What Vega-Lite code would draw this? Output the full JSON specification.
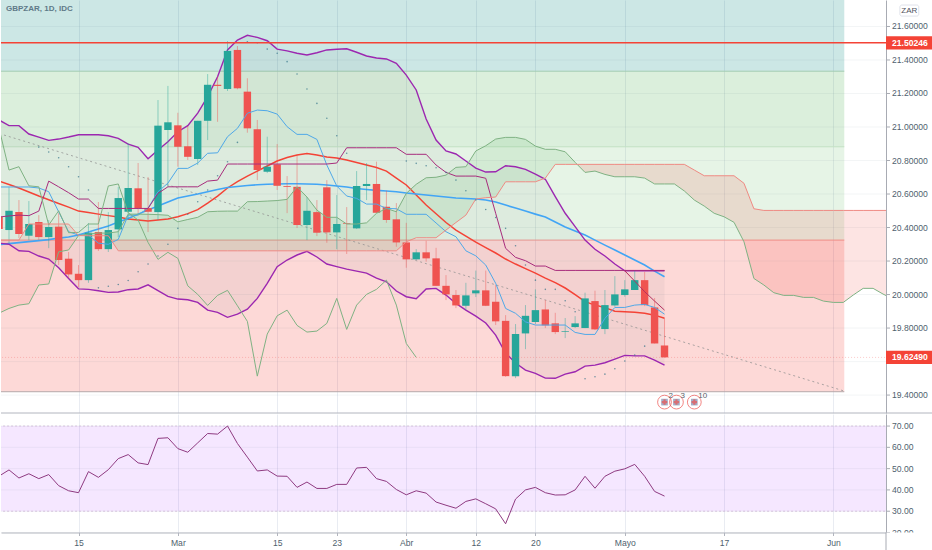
{"$schema":"https://vega.github.io/schema/vega-lite/v6.json","description":"GBPZAR diario con Ichimoku, Bollinger, medias, SAR y RSI","padding":0,"spacing":0,"background":"white","config":{"view":{"stroke":null},"font":"Liberation Sans"},
"datasets":{
"candles":[
{"i":-1,"o":20.463,"c":20.391,"h":20.534,"l":20.355,"d":"down"},
{"i":0,"o":20.385,"c":20.5,"h":20.642,"l":20.307,"d":"up"},
{"i":1,"o":20.492,"c":20.361,"h":20.564,"l":20.337,"d":"down"},
{"i":2,"o":20.351,"c":20.421,"h":20.558,"l":20.325,"d":"up"},
{"i":3,"o":20.433,"c":20.343,"h":20.474,"l":20.325,"d":"down"},
{"i":4,"o":20.343,"c":20.403,"h":20.445,"l":20.277,"d":"up"},
{"i":5,"o":20.405,"c":20.206,"h":20.486,"l":20.176,"d":"down"},
{"i":6,"o":20.214,"c":20.12,"h":20.254,"l":20.098,"d":"down"},
{"i":7,"o":20.124,"c":20.086,"h":20.176,"l":20.045,"d":"down"},
{"i":8,"o":20.086,"c":20.369,"h":20.427,"l":20.07,"d":"up"},
{"i":9,"o":20.373,"c":20.271,"h":20.552,"l":20.26,"d":"down"},
{"i":10,"o":20.271,"c":20.385,"h":20.492,"l":20.254,"d":"up"},
{"i":11,"o":20.389,"c":20.576,"h":20.642,"l":20.343,"d":"up"},
{"i":12,"o":20.494,"c":20.636,"h":20.904,"l":20.445,"d":"up"},
{"i":13,"o":20.634,"c":20.516,"h":20.785,"l":20.486,"d":"down"},
{"i":14,"o":20.516,"c":20.494,"h":20.701,"l":20.373,"d":"down"},
{"i":15,"o":20.492,"c":21.008,"h":21.161,"l":20.445,"d":"up"},
{"i":16,"o":20.982,"c":21.028,"h":21.245,"l":20.642,"d":"up"},
{"i":17,"o":21.01,"c":20.882,"h":21.085,"l":20.763,"d":"down"},
{"i":18,"o":20.885,"c":20.822,"h":21.006,"l":20.803,"d":"down"},
{"i":19,"o":20.809,"c":21.037,"h":21.037,"l":20.773,"d":"up"},
{"i":20,"o":21.037,"c":21.252,"h":21.316,"l":20.922,"d":"up"},
{"i":21,"o":21.252,"c":21.245,"h":21.3,"l":21.031,"d":"down"},
{"i":22,"o":21.227,"c":21.454,"h":21.513,"l":21.215,"d":"up"},
{"i":23,"o":21.46,"c":21.231,"h":21.483,"l":21.225,"d":"down"},
{"i":24,"o":21.211,"c":20.992,"h":21.291,"l":20.966,"d":"down"},
{"i":25,"o":20.986,"c":20.743,"h":21.042,"l":20.683,"d":"down"},
{"i":26,"o":20.733,"c":20.763,"h":20.942,"l":20.725,"d":"up"},
{"i":27,"o":20.777,"c":20.649,"h":20.898,"l":20.624,"d":"down"},
{"i":28,"o":20.648,"c":20.643,"h":20.707,"l":20.486,"d":"down"},
{"i":29,"o":20.643,"c":20.415,"h":20.833,"l":20.397,"d":"down"},
{"i":30,"o":20.415,"c":20.5,"h":20.582,"l":20.325,"d":"up"},
{"i":31,"o":20.492,"c":20.369,"h":20.564,"l":20.349,"d":"down"},
{"i":32,"o":20.64,"c":20.371,"h":20.683,"l":20.309,"d":"down"},
{"i":33,"o":20.371,"c":20.421,"h":20.594,"l":20.271,"d":"up"},
{"i":34,"o":20.425,"c":20.421,"h":20.522,"l":20.242,"d":"down"},
{"i":35,"o":20.395,"c":20.648,"h":20.737,"l":20.391,"d":"up"},
{"i":36,"o":20.648,"c":20.66,"h":20.785,"l":20.564,"d":"up"},
{"i":37,"o":20.66,"c":20.488,"h":20.793,"l":20.486,"d":"down"},
{"i":38,"o":20.524,"c":20.445,"h":20.62,"l":20.428,"d":"down"},
{"i":39,"o":20.449,"c":20.311,"h":20.546,"l":20.285,"d":"down"},
{"i":40,"o":20.311,"c":20.21,"h":20.428,"l":20.16,"d":"down"},
{"i":41,"o":20.21,"c":20.252,"h":20.271,"l":20.206,"d":"up"},
{"i":42,"o":20.252,"c":20.216,"h":20.321,"l":20.196,"d":"down"},
{"i":43,"o":20.216,"c":20.052,"h":20.279,"l":20.052,"d":"down"},
{"i":44,"o":20.052,"c":20.001,"h":20.116,"l":19.967,"d":"down"},
{"i":45,"o":19.997,"c":19.935,"h":20.027,"l":19.919,"d":"down"},
{"i":46,"o":19.933,"c":19.995,"h":20.07,"l":19.907,"d":"up"},
{"i":47,"o":20.007,"c":20.025,"h":20.143,"l":19.985,"d":"up"},
{"i":48,"o":20.025,"c":19.933,"h":20.143,"l":19.931,"d":"down"},
{"i":49,"o":19.957,"c":19.84,"h":20.057,"l":19.818,"d":"down"},
{"i":50,"o":19.843,"c":19.513,"h":19.877,"l":19.509,"d":"down"},
{"i":51,"o":19.513,"c":19.764,"h":19.824,"l":19.501,"d":"up"},
{"i":52,"o":19.768,"c":19.873,"h":19.937,"l":19.674,"d":"up"},
{"i":53,"o":19.836,"c":19.907,"h":20.031,"l":19.824,"d":"up"},
{"i":54,"o":19.911,"c":19.816,"h":19.967,"l":19.8,"d":"down"},
{"i":55,"o":19.828,"c":19.776,"h":19.891,"l":19.764,"d":"down"},
{"i":56,"o":19.778,"c":19.782,"h":19.86,"l":19.74,"d":"up"},
{"i":57,"o":19.806,"c":19.828,"h":19.871,"l":19.8,"d":"up"},
{"i":58,"o":19.8,"c":19.977,"h":20.011,"l":19.8,"d":"up"},
{"i":59,"o":19.961,"c":19.792,"h":20.023,"l":19.788,"d":"down"},
{"i":60,"o":19.794,"c":19.937,"h":20.027,"l":19.764,"d":"up"},
{"i":61,"o":19.935,"c":20.001,"h":20.11,"l":19.927,"d":"up"},
{"i":62,"o":19.997,"c":20.031,"h":20.086,"l":19.987,"d":"up"},
{"i":63,"o":20.027,"c":20.086,"h":20.142,"l":20.027,"d":"up"},
{"i":64,"o":20.086,"c":19.937,"h":20.136,"l":19.931,"d":"down"},
{"i":65,"o":19.923,"c":19.708,"h":19.979,"l":19.708,"d":"down"},
{"i":66,"o":19.696,"c":19.625,"h":19.858,"l":19.623,"d":"down"}
],
"lines":[
{"i":-1,"bu":21.042,"bl":20.307,"m20":20.677,"m50":20.298,"ten":20.642,"kij":20.463,"chi":20.992},
{"i":0,"bu":21.008,"bl":20.3,"m20":20.657,"m50":20.304,"ten":20.642,"kij":20.469,"chi":20.743},
{"i":1,"bu":21.008,"bl":20.261,"m20":20.636,"m50":20.31,"ten":20.642,"kij":20.474,"chi":20.763},
{"i":2,"bu":20.958,"bl":20.258,"m20":20.612,"m50":20.316,"ten":20.642,"kij":20.471,"chi":20.649},
{"i":3,"bu":20.94,"bl":20.23,"m20":20.588,"m50":20.322,"ten":20.636,"kij":20.498,"chi":20.643},
{"i":4,"bu":20.92,"bl":20.212,"m20":20.566,"m50":20.328,"ten":20.614,"kij":20.677,"chi":20.415},
{"i":5,"bu":20.928,"bl":20.16,"m20":20.543,"m50":20.337,"ten":20.494,"kij":20.643,"chi":20.5},
{"i":6,"bu":20.94,"bl":20.096,"m20":20.522,"m50":20.343,"ten":20.375,"kij":20.608,"chi":20.369},
{"i":7,"bu":20.954,"bl":20.034,"m20":20.498,"m50":20.355,"ten":20.355,"kij":20.57,"chi":20.371},
{"i":8,"bu":20.954,"bl":20.031,"m20":20.489,"m50":20.373,"ten":20.355,"kij":20.57,"chi":20.421},
{"i":9,"bu":20.954,"bl":20.023,"m20":20.48,"m50":20.391,"ten":20.307,"kij":20.514,"chi":20.421},
{"i":10,"bu":20.948,"bl":20.013,"m20":20.471,"m50":20.409,"ten":20.3,"kij":20.514,"chi":20.648},
{"i":11,"bu":20.932,"bl":20.015,"m20":20.463,"m50":20.433,"ten":20.329,"kij":20.514,"chi":20.66},
{"i":12,"bu":20.898,"bl":20.029,"m20":20.451,"m50":20.454,"ten":20.474,"kij":20.514,"chi":20.488},
{"i":13,"bu":20.879,"bl":20.033,"m20":20.445,"m50":20.48,"ten":20.474,"kij":20.514,"chi":20.445},
{"i":14,"bu":20.811,"bl":20.058,"m20":20.439,"m50":20.504,"ten":20.516,"kij":20.514,"chi":20.311},
{"i":15,"bu":20.863,"bl":20.023,"m20":20.445,"m50":20.528,"ten":20.614,"kij":20.604,"chi":20.21},
{"i":16,"bu":20.912,"bl":19.989,"m20":20.451,"m50":20.552,"ten":20.665,"kij":20.643,"chi":20.252},
{"i":17,"bu":20.972,"bl":19.973,"m20":20.464,"m50":20.576,"ten":20.753,"kij":20.643,"chi":20.216},
{"i":18,"bu":21.008,"bl":19.969,"m20":20.483,"m50":20.588,"ten":20.753,"kij":20.643,"chi":20.052},
{"i":19,"bu":21.083,"bl":19.953,"m20":20.507,"m50":20.6,"ten":20.785,"kij":20.643,"chi":20.001},
{"i":20,"bu":21.181,"bl":19.907,"m20":20.546,"m50":20.614,"ten":20.843,"kij":20.677,"chi":19.935},
{"i":21,"bu":21.3,"bl":19.894,"m20":20.588,"m50":20.627,"ten":20.846,"kij":20.683,"chi":19.995},
{"i":22,"bu":21.46,"bl":19.864,"m20":20.636,"m50":20.639,"ten":20.942,"kij":20.779,"chi":20.025},
{"i":23,"bu":21.519,"bl":19.883,"m20":20.674,"m50":20.645,"ten":20.992,"kij":20.779,"chi":19.933},
{"i":24,"bu":21.547,"bl":19.913,"m20":20.707,"m50":20.651,"ten":21.082,"kij":20.779,"chi":19.84},
{"i":25,"bu":21.535,"bl":19.977,"m20":20.737,"m50":20.655,"ten":21.101,"kij":20.779,"chi":19.513},
{"i":26,"bu":21.515,"bl":20.067,"m20":20.767,"m50":20.658,"ten":21.097,"kij":20.779,"chi":19.764},
{"i":27,"bu":21.465,"bl":20.166,"m20":20.797,"m50":20.66,"ten":21.077,"kij":20.779,"chi":19.873},
{"i":28,"bu":21.454,"bl":20.206,"m20":20.818,"m50":20.661,"ten":21.002,"kij":20.779,"chi":19.907},
{"i":29,"bu":21.44,"bl":20.236,"m20":20.833,"m50":20.661,"ten":20.956,"kij":20.779,"chi":19.816},
{"i":30,"bu":21.43,"bl":20.258,"m20":20.842,"m50":20.66,"ten":20.956,"kij":20.779,"chi":19.776},
{"i":31,"bu":21.443,"bl":20.224,"m20":20.833,"m50":20.658,"ten":20.926,"kij":20.779,"chi":19.782},
{"i":32,"bu":21.46,"bl":20.182,"m20":20.821,"m50":20.654,"ten":20.773,"kij":20.779,"chi":19.828},
{"i":33,"bu":21.464,"bl":20.167,"m20":20.815,"m50":20.648,"ten":20.648,"kij":20.785,"chi":19.977},
{"i":34,"bu":21.467,"bl":20.152,"m20":20.803,"m50":20.642,"ten":20.588,"kij":20.876,"chi":19.792},
{"i":35,"bu":21.446,"bl":20.14,"m20":20.788,"m50":20.633,"ten":20.574,"kij":20.876,"chi":19.937},
{"i":36,"bu":21.424,"bl":20.128,"m20":20.773,"m50":20.627,"ten":20.54,"kij":20.876,"chi":20.001},
{"i":37,"bu":21.412,"bl":20.098,"m20":20.758,"m50":20.622,"ten":20.54,"kij":20.876,"chi":20.031},
{"i":38,"bu":21.406,"bl":20.076,"m20":20.737,"m50":20.618,"ten":20.514,"kij":20.876,"chi":20.086},
{"i":39,"bu":21.38,"bl":20.021,"m20":20.695,"m50":20.614,"ten":20.512,"kij":20.876,"chi":19.937},
{"i":40,"bu":21.31,"bl":19.987,"m20":20.654,"m50":20.606,"ten":20.479,"kij":20.837,"chi":19.708},
{"i":41,"bu":21.221,"bl":19.975,"m20":20.594,"m50":20.6,"ten":20.479,"kij":20.837,"chi":19.625},
{"i":42,"bu":21.048,"bl":20.033,"m20":20.534,"m50":20.594,"ten":20.479,"kij":20.837},
{"i":43,"bu":20.922,"bl":20.037,"m20":20.482,"m50":20.588,"ten":20.427,"kij":20.773},
{"i":44,"bu":20.857,"bl":19.997,"m20":20.43,"m50":20.582,"ten":20.375,"kij":20.729},
{"i":45,"bu":20.839,"bl":19.947,"m20":20.385,"m50":20.576,"ten":20.345,"kij":20.707},
{"i":46,"bu":20.797,"bl":19.907,"m20":20.349,"m50":20.573,"ten":20.261,"kij":20.707},
{"i":47,"bu":20.755,"bl":19.871,"m20":20.313,"m50":20.57,"ten":20.231,"kij":20.707},
{"i":48,"bu":20.731,"bl":19.83,"m20":20.28,"m50":20.564,"ten":20.176,"kij":20.694},
{"i":49,"bu":20.733,"bl":19.758,"m20":20.248,"m50":20.552,"ten":20.067,"kij":20.485},
{"i":50,"bu":20.769,"bl":19.651,"m20":20.212,"m50":20.534,"ten":19.917,"kij":20.276},
{"i":51,"bu":20.763,"bl":19.591,"m20":20.182,"m50":20.516,"ten":19.888,"kij":20.222},
{"i":52,"bu":20.747,"bl":19.549,"m20":20.155,"m50":20.498,"ten":19.837,"kij":20.202},
{"i":53,"bu":20.719,"bl":19.529,"m20":20.128,"m50":20.48,"ten":19.818,"kij":20.17},
{"i":54,"bu":20.688,"bl":19.501,"m20":20.098,"m50":20.463,"ten":19.818,"kij":20.17},
{"i":55,"bu":20.584,"bl":19.5,"m20":20.071,"m50":20.433,"ten":19.818,"kij":20.144},
{"i":56,"bu":20.485,"bl":19.525,"m20":20.039,"m50":20.403,"ten":19.818,"kij":20.144},
{"i":57,"bu":20.405,"bl":19.539,"m20":20.0,"m50":20.379,"ten":19.774,"kij":20.144},
{"i":58,"bu":20.325,"bl":19.573,"m20":19.958,"m50":20.355,"ten":19.762,"kij":20.144},
{"i":59,"bu":20.27,"bl":19.579,"m20":19.937,"m50":20.325,"ten":19.762,"kij":20.144},
{"i":60,"bu":20.23,"bl":19.593,"m20":19.922,"m50":20.295,"ten":19.858,"kij":20.144},
{"i":61,"bu":20.182,"bl":19.615,"m20":19.901,"m50":20.266,"ten":19.923,"kij":20.144},
{"i":62,"bu":20.142,"bl":19.637,"m20":19.898,"m50":20.236,"ten":19.923,"kij":20.144,"dg":20.142},
{"i":63,"bu":20.142,"bl":19.634,"m20":19.895,"m50":20.206,"ten":19.937,"kij":20.144,"dg":20.08},
{"i":64,"bu":20.142,"bl":19.634,"m20":19.889,"m50":20.176,"ten":19.941,"kij":20.144,"dg":20.017},
{"i":65,"bu":20.142,"bl":19.609,"m20":19.877,"m50":20.14,"ten":19.923,"kij":20.144,"dg":19.961},
{"i":66,"bu":20.142,"bl":19.579,"m20":19.858,"m50":20.106,"ten":19.883,"kij":20.144,"dg":19.907}
],
"cloud":[
{"s":"r1","i":-1,"a":19.889,"b":20.325},{"s":"r1","i":0,"a":19.917,"b":20.325},{"s":"r1","i":1,"a":19.937,"b":20.325},{"s":"r1","i":2,"a":19.945,"b":20.421},{"s":"r1","i":3,"a":20.057,"b":20.421},{"s":"r1","i":4,"a":20.063,"b":20.421},{"s":"r1","i":5,"a":20.255,"b":20.421},{"s":"r1","i":6,"a":20.266,"b":20.421},{"s":"r1","i":7,"a":20.352,"b":20.352},
{"s":"g","i":7,"a":20.352,"b":20.352},{"s":"g","i":8,"a":20.361,"b":20.351},{"s":"g","i":9,"a":20.367,"b":20.351},{"s":"g","i":10,"a":20.367,"b":20.351},{"s":"g","i":11,"a":20.375,"b":20.261},{"s":"g","i":12,"a":20.48,"b":20.261},{"s":"g","i":13,"a":20.48,"b":20.261},{"s":"g","i":14,"a":20.479,"b":20.261},{"s":"g","i":15,"a":20.477,"b":20.261},{"s":"g","i":16,"a":20.473,"b":20.261},{"s":"g","i":17,"a":20.434,"b":20.261},{"s":"g","i":18,"a":20.448,"b":20.261},{"s":"g","i":19,"a":20.461,"b":20.261},{"s":"g","i":20,"a":20.494,"b":20.261},{"s":"g","i":21,"a":20.497,"b":20.261},{"s":"g","i":22,"a":20.498,"b":20.261},{"s":"g","i":23,"a":20.498,"b":20.261},{"s":"g","i":24,"a":20.554,"b":20.261},{"s":"g","i":25,"a":20.555,"b":20.261},{"s":"g","i":26,"a":20.558,"b":20.261},{"s":"g","i":27,"a":20.561,"b":20.261},{"s":"g","i":28,"a":20.568,"b":20.261},{"s":"g","i":29,"a":20.643,"b":20.261},{"s":"g","i":30,"a":20.582,"b":20.261},{"s":"g","i":31,"a":20.504,"b":20.261},{"s":"g","i":32,"a":20.461,"b":20.261},{"s":"g","i":33,"a":20.461,"b":20.261},{"s":"g","i":34,"a":20.421,"b":20.261},{"s":"g","i":35,"a":20.421,"b":20.261},{"s":"g","i":36,"a":20.428,"b":20.261},{"s":"g","i":37,"a":20.485,"b":20.261},{"s":"g","i":38,"a":20.514,"b":20.261},{"s":"g","i":39,"a":20.494,"b":20.261},{"s":"g","i":40,"a":20.604,"b":20.315},{"s":"g","i":41,"a":20.658,"b":20.339},{"s":"g","i":42,"a":20.697,"b":20.339},{"s":"g","i":43,"a":20.7,"b":20.339},{"s":"g","i":44,"a":20.713,"b":20.385},{"s":"g","i":45,"a":20.759,"b":20.43},{"s":"g","i":46,"a":20.763,"b":20.474},{"s":"g","i":47,"a":20.857,"b":20.57},{"s":"g","i":48,"a":20.888,"b":20.578},{"s":"g","i":49,"a":20.928,"b":20.582},{"s":"g","i":50,"a":20.938,"b":20.673},{"s":"g","i":51,"a":20.938,"b":20.673},{"s":"g","i":52,"a":20.926,"b":20.673},{"s":"g","i":53,"a":20.886,"b":20.673},{"s":"g","i":54,"a":20.867,"b":20.695},{"s":"g","i":55,"a":20.867,"b":20.777},{"s":"g","i":56,"a":20.852,"b":20.777},{"s":"g","i":57,"a":20.789,"b":20.777},{"s":"g","i":57.2,"a":20.777,"b":20.777},
{"s":"r2","i":57.2,"a":20.777,"b":20.777},{"s":"r2","i":58,"a":20.729,"b":20.777},{"s":"r2","i":59,"a":20.737,"b":20.777},{"s":"r2","i":60,"a":20.717,"b":20.777},{"s":"r2","i":61,"a":20.703,"b":20.777},{"s":"r2","i":62,"a":20.703,"b":20.777},{"s":"r2","i":63,"a":20.703,"b":20.777},{"s":"r2","i":64,"a":20.695,"b":20.777},{"s":"r2","i":65,"a":20.66,"b":20.777},{"s":"r2","i":66,"a":20.66,"b":20.777},{"s":"r2","i":67,"a":20.66,"b":20.777},{"s":"r2","i":68,"a":20.618,"b":20.777},{"s":"r2","i":69,"a":20.564,"b":20.743},{"s":"r2","i":70,"a":20.528,"b":20.709},{"s":"r2","i":71,"a":20.485,"b":20.709},{"s":"r2","i":72,"a":20.464,"b":20.709},{"s":"r2","i":73,"a":20.431,"b":20.709},{"s":"r2","i":74,"a":20.315,"b":20.664},{"s":"r2","i":75,"a":20.096,"b":20.512},{"s":"r2","i":76,"a":20.057,"b":20.502},{"s":"r2","i":77,"a":20.011,"b":20.502},{"s":"r2","i":78,"a":19.995,"b":20.502},{"s":"r2","i":79,"a":19.995,"b":20.502},{"s":"r2","i":80,"a":19.983,"b":20.502},{"s":"r2","i":81,"a":19.983,"b":20.502},{"s":"r2","i":82,"a":19.961,"b":20.502},{"s":"r2","i":83,"a":19.953,"b":20.502},{"s":"r2","i":84,"a":19.953,"b":20.502},{"s":"r2","i":85,"a":19.997,"b":20.502},{"s":"r2","i":86,"a":20.037,"b":20.502},{"s":"r2","i":87,"a":20.037,"b":20.502},{"s":"r2","i":88,"a":20.003,"b":20.502},{"s":"r2","i":89,"a":19.973,"b":20.502}
],
"sar":[
{"i":3,"p":20.88},{"i":4,"p":20.851},{"i":5,"p":20.816},{"i":6,"p":20.763},{"i":7,"p":20.703},{"i":8,"p":20.624},{"i":9,"p":20.04},{"i":10,"p":20.05},{"i":11,"p":20.06},{"i":12,"p":20.084},{"i":13,"p":20.136},{"i":14,"p":20.182},{"i":15,"p":20.23},{"i":16,"p":20.3},{"i":17,"p":20.395},{"i":18,"p":20.48},{"i":19,"p":20.554},{"i":20,"p":20.624},{"i":21,"p":20.709},{"i":22,"p":20.793},{"i":23,"p":20.908},{"i":24,"p":21.509},{"i":25,"p":21.503},{"i":26,"p":21.465},{"i":27,"p":21.44},{"i":28,"p":21.39},{"i":29,"p":21.316},{"i":30,"p":21.227},{"i":31,"p":21.141},{"i":32,"p":21.052},{"i":33,"p":20.948},{"i":34,"p":20.843},{"i":40,"p":20.797},{"i":41,"p":20.783},{"i":42,"p":20.769},{"i":43,"p":20.757},{"i":44,"p":20.729},{"i":45,"p":20.683},{"i":46,"p":20.62},{"i":47,"p":20.564},{"i":48,"p":20.508},{"i":49,"p":20.46},{"i":50,"p":20.395},{"i":51,"p":20.291},{"i":52,"p":20.176},{"i":53,"p":20.086},{"i":54,"p":20.031},{"i":55,"p":20.031},{"i":56,"p":19.963},{"i":57,"p":19.897},{"i":58,"p":19.497},{"i":59,"p":19.509},{"i":60,"p":19.525},{"i":61,"p":19.557},{"i":62,"p":19.603},{"i":63,"p":19.639},{"i":64,"p":19.692}
],
"zones":[
{"z":"a","x1":-1,"x2":84.1,"p1":21.333,"p2":21.8},
{"z":"b","x1":-1,"x2":84.1,"p1":20.882,"p2":21.333},
{"z":"c","x1":-1,"x2":84.1,"p1":20.325,"p2":20.882},
{"z":"d","x1":-1,"x2":84.1,"p1":19.42,"p2":20.325}
],
"priceTicks":[{"p":21.6},{"p":21.4},{"p":21.2},{"p":21},{"p":20.8},{"p":20.6},{"p":20.4},{"p":20.2},{"p":20},{"p":19.8},{"p":19.6},{"p":19.4}],
"rsiTicks":[{"v":70},{"v":60},{"v":50},{"v":40},{"v":30},{"v":20}],
"labels":[
{"t":"21.50246","p":21.50246,"lo":21.463,"hi":21.542},
{"t":"19.62490","p":19.6249,"lo":19.586,"hi":19.664}
],
"events":[{"i":66,"p":19.358,"n":"2"},{"i":67.2,"p":19.358,"n":"3"},{"i":69,"p":19.358,"n":"10"}],
"rsi":[
{"i":-1,"v":46.5},{"i":0,"v":49.4},{"i":1,"v":45.6},{"i":2,"v":47.6},{"i":3,"v":45.3},{"i":4,"v":47.2},{"i":5,"v":42},{"i":6,"v":39.6},{"i":7,"v":38.7},{"i":8,"v":48.6},{"i":9,"v":45.9},{"i":10,"v":49.5},{"i":11,"v":54.7},{"i":12,"v":56.6},{"i":13,"v":52.7},{"i":14,"v":51.9},{"i":15,"v":64.2},{"i":16,"v":64.5},{"i":17,"v":59.4},{"i":18,"v":57.7},{"i":19,"v":62.1},{"i":20,"v":66.5},{"i":21,"v":66.2},{"i":22,"v":70},{"i":23,"v":61.8},{"i":24,"v":55.4},{"i":25,"v":48.9},{"i":26,"v":49.4},{"i":27,"v":46.5},{"i":28,"v":46.4},{"i":29,"v":41.2},{"i":30,"v":43.7},{"i":31,"v":40.7},{"i":32,"v":40.7},{"i":33,"v":42.6},{"i":34,"v":42.6},{"i":35,"v":50.3},{"i":36,"v":50.6},{"i":37,"v":45.3},{"i":38,"v":44},{"i":39,"v":40.2},{"i":40,"v":37.7},{"i":41,"v":39.6},{"i":42,"v":38.5},{"i":43,"v":34.3},{"i":44,"v":32.8},{"i":45,"v":31.4},{"i":46,"v":34.6},{"i":47,"v":35.8},{"i":48,"v":33.5},{"i":49,"v":31.1},{"i":50,"v":24.1},{"i":51,"v":35.7},{"i":52,"v":40},{"i":53,"v":41.2},{"i":54,"v":38.7},{"i":55,"v":37.6},{"i":56,"v":37.7},{"i":57,"v":40},{"i":58,"v":46.4},{"i":59,"v":40.8},{"i":60,"v":46.4},{"i":61,"v":48.8},{"i":62,"v":49.9},{"i":63,"v":52},{"i":64,"v":46.4},{"i":65,"v":39.3},{"i":66,"v":37.1}
]
},
"vconcat":[
{"width":885,"height":413,
"resolve":{"scale":{"color":"independent"}},
"layer":[
{"data":{"name":"zones"},"mark":{"type":"rect","clip":true,"opacity":0.2},"encoding":{"x":{"field":"x1","type":"quantitative","title":null,"scale":{"domain":[-0.806,88.3],"nice":false,"zero":false,"padding":0},"axis":{"values":[7,17,27,33,40,47,53,62,72,83],"labels":false,"ticks":false,"domain":false,"grid":true,"gridColor":"#e9ecf2","title":null}},"x2":{"field":"x2"},"y":{"field":"p1","type":"quantitative","scale":{"domain":[19.293,21.758],"nice":false,"zero":false},"title":null,"axis":{"orient":"right","labels":false,"ticks":false,"grid":false,"domainColor":"#a8abb3","title":null}},"y2":{"field":"p2"},"color":{"field":"z","type":"nominal","legend":null,"scale":{"domain":["a","b","c","d"],"range":["#00897b","#4caf50","#81c784","#f44336"]}}}},
{"data":{"name":"priceTicks"},"mark":{"type":"rule","clip":true,"color":"#607d8b","opacity":0.08,"strokeWidth":1},"encoding":{"x":{"datum":-1,"type":"quantitative"},"x2":{"datum":88.3},"y":{"field":"p","type":"quantitative"}}},
{"data":{"name":"priceTicks"},"mark":{"type":"rule","color":"#a8abb3","strokeWidth":1},"encoding":{"x":{"datum":88.3,"type":"quantitative"},"x2":{"datum":88.7},"y":{"field":"p","type":"quantitative"}}},
{"data":{"name":"priceTicks"},"transform":[{"filter":"datum.p != 19.6"}],"mark":{"type":"text","align":"left","dx":6,"fontSize":8.6,"color":"#4f5f6e"},"encoding":{"x":{"datum":88.3,"type":"quantitative"},"y":{"field":"p","type":"quantitative"},"text":{"field":"p","type":"quantitative","format":".5f"}}},
{"data":{"values":[{"p":21.333,"k":"a"},{"p":20.882,"k":"b"},{"p":20.325,"k":"c"},{"p":19.42,"k":"d"}]},"mark":{"type":"rule","clip":true,"strokeWidth":1},"encoding":{"x":{"datum":-1,"type":"quantitative"},"x2":{"datum":84.1},"y":{"field":"p","type":"quantitative"},"color":{"field":"k","type":"nominal","legend":null,"scale":{"domain":["a","b","c","d"],"range":["#a3cdb2","#c2e2c4","#ef9a93","#b5a8aa"]}}}},
{"data":{"name":"lines"},"mark":{"type":"area","clip":true,"color":"#37474f","opacity":0.05},"encoding":{"x":{"field":"i","type":"quantitative"},"y":{"field":"bu","type":"quantitative"},"y2":{"field":"bl"}}},
{"data":{"name":"cloud"},"mark":{"type":"area","clip":true},"encoding":{"x":{"field":"i","type":"quantitative"},"y":{"field":"a","type":"quantitative"},"y2":{"field":"b"},"color":{"field":"s","type":"nominal","legend":null,"scale":{"domain":["r1","g","r2"],"range":["#f44336","#4caf50","#f44336"]}},"opacity":{"field":"s","type":"nominal","legend":null,"scale":{"domain":["r1","g","r2"],"range":[0.1,0.14,0.1]}}}},
{"data":{"values":[{"a":-0.5,"b":84.1,"p1":20.952,"p2":19.424}]},"mark":{"type":"rule","clip":true,"color":"#8f8f8f","strokeDash":[2,3],"strokeWidth":1,"opacity":0.75},"encoding":{"x":{"field":"a","type":"quantitative"},"x2":{"field":"b"},"y":{"field":"p1","type":"quantitative"},"y2":{"field":"p2"}}},
{"data":{"name":"lines"},"mark":{"type":"line","clip":true,"color":"#f44336","strokeWidth":1.5},"encoding":{"x":{"field":"i","type":"quantitative"},"y":{"field":"m20","type":"quantitative"}}},
{"data":{"name":"lines"},"mark":{"type":"line","clip":true,"color":"#42a5f5","strokeWidth":1.6},"encoding":{"x":{"field":"i","type":"quantitative"},"y":{"field":"m50","type":"quantitative"}}},
{"data":{"name":"lines"},"mark":{"type":"line","clip":true,"color":"#9c27b0","strokeWidth":1.4},"encoding":{"x":{"field":"i","type":"quantitative"},"y":{"field":"bu","type":"quantitative"}}},
{"data":{"name":"lines"},"mark":{"type":"line","clip":true,"color":"#9c27b0","strokeWidth":1.4},"encoding":{"x":{"field":"i","type":"quantitative"},"y":{"field":"bl","type":"quantitative"}}},
{"data":{"name":"candles"},"mark":{"type":"rule","clip":true,"strokeWidth":1,"opacity":0.45},"encoding":{"x":{"field":"i","type":"quantitative"},"y":{"field":"l","type":"quantitative"},"y2":{"field":"h"},"color":{"field":"d","type":"nominal","legend":null,"scale":{"domain":["up","down"],"range":["#26a69a","#ef5350"]}}}},
{"data":{"name":"candles"},"mark":{"type":"bar","clip":true,"size":7.4},"encoding":{"x":{"field":"i","type":"quantitative"},"y":{"field":"o","type":"quantitative"},"y2":{"field":"c"},"color":{"field":"d","type":"nominal","legend":null,"scale":{"domain":["up","down"],"range":["#26a69a","#ef5350"]}}}},
{"data":{"name":"lines"},"mark":{"type":"line","clip":true,"color":"#4fa8e8","strokeWidth":1},"encoding":{"x":{"field":"i","type":"quantitative"},"y":{"field":"ten","type":"quantitative"}}},
{"data":{"name":"lines"},"mark":{"type":"line","clip":true,"color":"#a82c7c","strokeWidth":1},"encoding":{"x":{"field":"i","type":"quantitative"},"y":{"field":"kij","type":"quantitative"}}},
{"data":{"name":"lines"},"mark":{"type":"line","clip":true,"color":"#b5305f","strokeWidth":1},"encoding":{"x":{"field":"i","type":"quantitative"},"y":{"field":"dg","type":"quantitative"}}},
{"data":{"name":"lines"},"mark":{"type":"line","clip":true,"color":"#7fb283","strokeWidth":1},"encoding":{"x":{"field":"i","type":"quantitative"},"y":{"field":"chi","type":"quantitative"}}},
{"data":{"name":"cloud"},"mark":{"type":"line","clip":true,"color":"#7fb283","strokeWidth":1},"encoding":{"x":{"field":"i","type":"quantitative"},"y":{"field":"a","type":"quantitative"}}},
{"data":{"name":"cloud"},"mark":{"type":"line","clip":true,"color":"#ef8a83","strokeWidth":1},"encoding":{"x":{"field":"i","type":"quantitative"},"y":{"field":"b","type":"quantitative"}}},
{"data":{"name":"sar"},"mark":{"type":"circle","clip":true,"size":2.5,"color":"#2f7088","opacity":0.7},"encoding":{"x":{"field":"i","type":"quantitative"},"y":{"field":"p","type":"quantitative"}}},
{"data":{"values":[{"p":19.6249}]},"mark":{"type":"rule","clip":true,"color":"#ef5350","strokeDash":[1,2],"opacity":0.3},"encoding":{"x":{"datum":-1,"type":"quantitative"},"x2":{"datum":88.3},"y":{"field":"p","type":"quantitative"}}},
{"data":{"values":[{"p":21.50246}]},"mark":{"type":"rule","clip":true,"color":"#f44336","strokeWidth":1.5},"encoding":{"x":{"datum":-1,"type":"quantitative"},"x2":{"datum":88.3},"y":{"field":"p","type":"quantitative"}}},
{"data":{"name":"labels"},"mark":{"type":"rect","color":"#f44336"},"encoding":{"x":{"datum":88.3,"type":"quantitative"},"x2":{"datum":93.05},"y":{"field":"lo","type":"quantitative"},"y2":{"field":"hi"}}},
{"data":{"name":"labels"},"mark":{"type":"text","align":"left","color":"white","fontSize":8.6,"fontWeight":"bold"},"encoding":{"x":{"datum":88.9,"type":"quantitative"},"y":{"field":"p","type":"quantitative"},"text":{"field":"t"}}},
{"data":{"values":[{"a":89.7,"b":91.6,"lo":21.662,"hi":21.728}]},"mark":{"type":"rect","fill":"white","stroke":"#e0e3eb","cornerRadius":2},"encoding":{"x":{"field":"a","type":"quantitative"},"x2":{"field":"b"},"y":{"field":"lo","type":"quantitative"},"y2":{"field":"hi"}}},
{"data":{"values":[{"a":90.65,"p":21.695,"t":"ZAR"}]},"mark":{"type":"text","fontSize":8,"color":"#50535e"},"encoding":{"x":{"field":"a","type":"quantitative"},"y":{"field":"p","type":"quantitative"},"text":{"field":"t"}}},
{"data":{"values":[{"a":-0.3,"p":21.702,"t":"GBPZAR, 1D, IDC"}]},"mark":{"type":"text","align":"left","fontSize":8,"fontWeight":"bold","color":"#5f7a88"},"encoding":{"x":{"field":"a","type":"quantitative"},"y":{"field":"p","type":"quantitative"},"text":{"field":"t"}}},
{"data":{"name":"events"},"mark":{"type":"point","filled":false,"clip":true,"size":190,"color":"#ef5350","strokeWidth":1},"encoding":{"x":{"field":"i","type":"quantitative"},"y":{"field":"p","type":"quantitative"}}},
{"data":{"name":"events"},"mark":{"type":"point","filled":true,"shape":"square","clip":true,"size":44,"color":"#7b8db0"},"encoding":{"x":{"field":"i","type":"quantitative"},"y":{"field":"p","type":"quantitative"}}},
{"data":{"name":"events"},"mark":{"type":"point","filled":true,"shape":"cross","clip":true,"size":30,"color":"#ef5350","opacity":0.7},"encoding":{"x":{"field":"i","type":"quantitative"},"y":{"field":"p","type":"quantitative"}}},
{"data":{"name":"events"},"mark":{"type":"text","align":"left","dx":4,"dy":-6,"fontSize":8,"color":"#5a5f6a"},"encoding":{"x":{"field":"i","type":"quantitative"},"y":{"field":"p","type":"quantitative"},"text":{"field":"n"}}},
{"data":{"values":[{"p":19.293}]},"mark":{"type":"rule","color":"#b2b5be","strokeWidth":1},"encoding":{"x":{"datum":-0.806,"type":"quantitative"},"x2":{"datum":93.05},"y":{"field":"p","type":"quantitative"}}}
]},
{"width":885,"height":118.5,
"layer":[
{"data":{"values":[{"a":-1,"b":88.3,"lo":30,"hi":70}]},"mark":{"type":"rect","clip":true,"color":"#9915ff","opacity":0.1},"encoding":{"x":{"field":"a","type":"quantitative","title":null,"scale":{"domain":[-0.806,88.3],"nice":false,"zero":false,"padding":0},"axis":{"orient":"bottom","values":[7,17,27,33,40,47,53,62,72,83],"labelExpr":"{'7':'15','17':'Mar','27':'15','33':'23','40':'Abr','47':'12','53':'20','62':'Mayo','72':'17','83':'Jun'}[datum.value]","grid":true,"gridColor":"#e9ecf2","domainColor":"#b2b5be","tickColor":"#b2b5be","tickSize":3,"labelPadding":3,"labelFontSize":8.6,"labelColor":"#4f5f6e","labelOverlap":false,"labelBound":false,"labelFlush":false,"title":null}},"x2":{"field":"b"},"y":{"field":"lo","type":"quantitative","scale":{"domain":[20,75.66],"nice":false,"zero":false},"title":null,"axis":{"orient":"right","labels":false,"ticks":false,"grid":false,"domainColor":"#a8abb3","title":null}},"y2":{"field":"hi"}}},
{"data":{"name":"rsiTicks"},"mark":{"type":"rule","clip":true,"color":"#607d8b","opacity":0.08,"strokeWidth":1},"encoding":{"x":{"datum":-1,"type":"quantitative"},"x2":{"datum":88.3},"y":{"field":"v","type":"quantitative"}}},
{"data":{"name":"rsiTicks"},"mark":{"type":"rule","color":"#a8abb3","strokeWidth":1},"encoding":{"x":{"datum":88.3,"type":"quantitative"},"x2":{"datum":88.7},"y":{"field":"v","type":"quantitative"}}},
{"data":{"name":"rsiTicks"},"mark":{"type":"text","align":"left","dx":6,"fontSize":8.6,"color":"#4f5f6e"},"encoding":{"x":{"datum":88.3,"type":"quantitative"},"y":{"field":"v","type":"quantitative"},"text":{"field":"v","type":"quantitative","format":".2f"}}},
{"data":{"values":[{"v":70},{"v":30}]},"mark":{"type":"rule","clip":true,"color":"#d5c3dc","strokeDash":[2,2],"strokeWidth":1},"encoding":{"x":{"datum":-1,"type":"quantitative"},"x2":{"datum":88.3},"y":{"field":"v","type":"quantitative"}}},
{"data":{"name":"rsi"},"mark":{"type":"line","clip":true,"color":"#8e3a80","strokeWidth":1},"encoding":{"x":{"field":"i","type":"quantitative"},"y":{"field":"v","type":"quantitative"}}},
{"data":{"values":[{"a":88.35,"b":93.05,"lo":19.95,"hi":17}]},"mark":{"type":"rect","color":"white"},"encoding":{"x":{"field":"a","type":"quantitative"},"x2":{"field":"b"},"y":{"field":"lo","type":"quantitative"},"y2":{"field":"hi"}}},
{"data":{"values":[{"lo":20,"hi":11}]},"mark":{"type":"rule","color":"#a8abb3","strokeWidth":1},"encoding":{"x":{"datum":88.3,"type":"quantitative"},"y":{"field":"lo","type":"quantitative"},"y2":{"field":"hi"}}}
]}
]}
